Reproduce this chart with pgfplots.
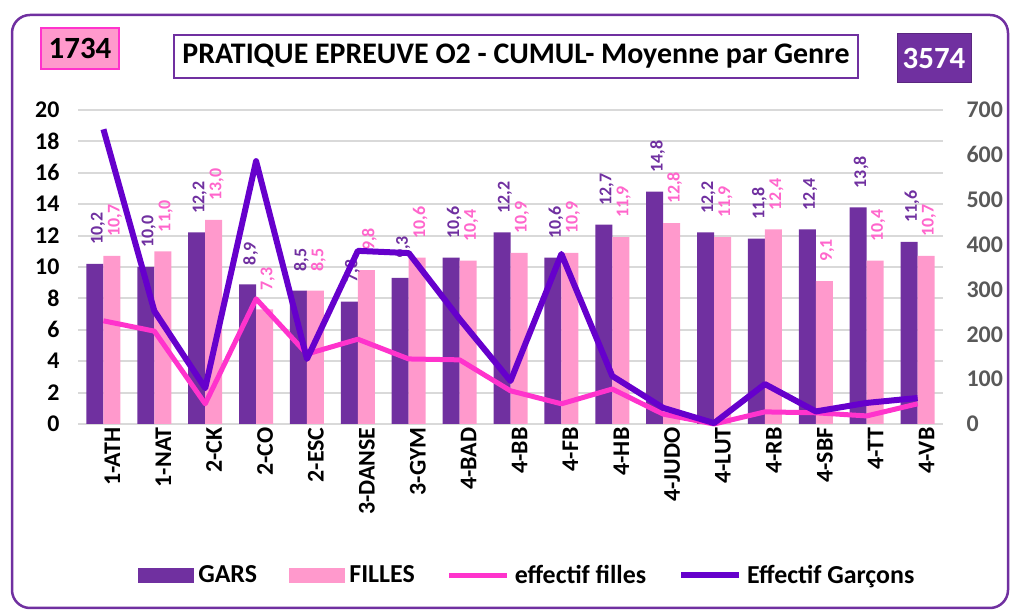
\documentclass[border=0pt]{standalone}
\usepackage{pgfplots}
\pgfplotsset{compat=1.18}
\usepackage{fontspec}
\setmainfont{Carlito}
\definecolor{gars}{HTML}{7030A0}
\definecolor{filles}{HTML}{FF99CC}
\definecolor{fillestxt}{HTML}{FF66CC}
\definecolor{lfilles}{HTML}{FF33CC}
\definecolor{lgarcons}{HTML}{6600CC}
\definecolor{gridgrey}{HTML}{D9D9D9}
\definecolor{tickgrey}{HTML}{595959}
\definecolor{frame}{HTML}{7030A0}

\pgfplotstableread{
x gars filles efff effg
0  10.2 10.7 230 657
1  10.0 11.0 207 252
2  12.2 13.0 45  80
3  8.9  7.3  279 586
4  8.5  8.5  156 145
5  7.8  9.8  189 386
6  9.3  10.6 145 381
7  10.6 10.4 143 234
8  12.2 10.9 74  96
9  10.6 10.9 45  379
10 12.7 11.9 78  107
11 14.8 12.8 22  36
12 12.2 11.9 0   2
13 11.8 12.4 27  89
14 12.4 9.1  25  28
15 13.8 10.4 18  47
16 11.6 10.7 45  58
}\data

\newcommand{\tickfont}{\fontsize{24}{24}\selectfont\bfseries}
\newcommand{\lblfont}{\fontsize{18}{18}\selectfont\bfseries}

\pgfplotsset{
  garsleg/.style={legend image code/.code={\fill[gars] (0bp,-7bp) rectangle (55bp,7bp);}},
  fillesleg/.style={legend image code/.code={\fill[filles] (0bp,-7bp) rectangle (55bp,7bp);}},
  lineleg/.style={legend image code/.code={\draw[##1] (0bp,0bp) -- (58bp,0bp);}},
}

\begin{document}
\begin{tikzpicture}[x=1bp,y=1bp]
\useasboundingbox (0,0) rectangle (1010,610);
\draw[frame, line width=2.5bp, rounded corners=18bp] (12,2) rectangle (1008,595);
% title boxes
\draw[frame, line width=2bp, fill=white] (174,532) rectangle (858,575);
\node[font=\fontsize{30}{30}\selectfont\bfseries] at (516,553.5) {PRATIQUE EPREUVE O2 - CUMUL- Moyenne par Genre};
\draw[lfilles, line width=1.5bp, fill=filles] (41,541) rectangle (119,582);
\node[font=\fontsize{31}{31}\selectfont\bfseries] at (80,561.5) {1734};
\draw[gars!80!black, line width=1bp, fill=gars] (897,527) rectangle (971,576);
\node[font=\fontsize{31}{31}\selectfont\bfseries, white] at (934,551.5) {3574};

\begin{axis}[
  at={(78bp,186bp)}, anchor=south west,
  scale only axis, width=865bp, height=314bp,
  xmin=-0.5, xmax=16.5, ymin=0, ymax=20,
  ybar=0pt, bar width=17bp,
  xtick={0,...,16},
  xticklabels={1-ATH,1-NAT,2-CK,2-CO,2-ESC,3-DANSE,3-GYM,4-BAD,4-BB,4-FB,4-HB,4-JUDO,4-LUT,4-RB,4-SBF,4-TT,4-VB},
  xticklabel style={rotate=90, anchor=east, font=\tickfont, black, yshift=-9bp},
  ytick={0,2,...,20},
  yticklabel style={font=\tickfont, black, xshift=-15bp},
  /pgf/number format/assume math mode=true,
  ymajorgrids, grid style={gridgrey, line width=2bp},
  axis x line*=bottom, axis y line*=left,
  x axis line style={gridgrey, line width=2bp, -},
  y axis line style={draw=none},
  major tick length=0pt,
  clip=false,
]
\addplot[fill=gars, draw=none,
  nodes near coords={\pgfmathprintnumber[fixed,fixed zerofill,precision=1,use comma]{\pgfplotspointmeta}},
  every node near coord/.append style={gars, font=\lblfont, rotate=90, anchor=west, inner sep=0pt, xshift=19bp, yshift=-3bp}]
  table[x=x, y=gars] {\data};
\addplot[fill=filles, draw=none,
  nodes near coords={\pgfmathprintnumber[fixed,fixed zerofill,precision=1,use comma]{\pgfplotspointmeta}},
  every node near coord/.append style={fillestxt, font=\lblfont, rotate=90, anchor=west, inner sep=0pt, xshift=19bp, yshift=-3bp}]
  table[x=x, y=filles] {\data};
\end{axis}

\begin{axis}[
  at={(78bp,186bp)}, anchor=south west,
  scale only axis, width=865bp, height=314bp,
  xmin=-0.5, xmax=16.5, ymin=0, ymax=700,
  axis x line=none, axis y line*=right,
  y axis line style={draw=none},
  ytick={0,100,...,700},
  yticklabel style={font=\tickfont, tickgrey, xshift=20bp},
  /pgf/number format/assume math mode=true,
  major tick length=0pt,
  legend columns=4,
  legend style={at={(0.069,-0.481)}, anchor=west, draw=none, fill=none, inner sep=0pt,
    font=\fontsize{26}{26}\selectfont\bfseries,
    /tikz/every odd column/.append style={column sep=3bp},
    /tikz/every even column/.append style={column sep=30bp}},
  clip=false,
]
\addlegendimage{garsleg}
\addlegendentry{GARS}
\addlegendimage{fillesleg}
\addlegendentry{FILLES}
\addplot[lfilles, line width=5bp, line join=round, lineleg]
  table[x=x, y=efff] {\data};
\addlegendentry{effectif filles}
\addplot[lgarcons, line width=6bp, line join=round, lineleg]
  table[x=x, y=effg] {\data};
\addlegendentry{Effectif Garçons}
\end{axis}
\end{tikzpicture}
\end{document}
